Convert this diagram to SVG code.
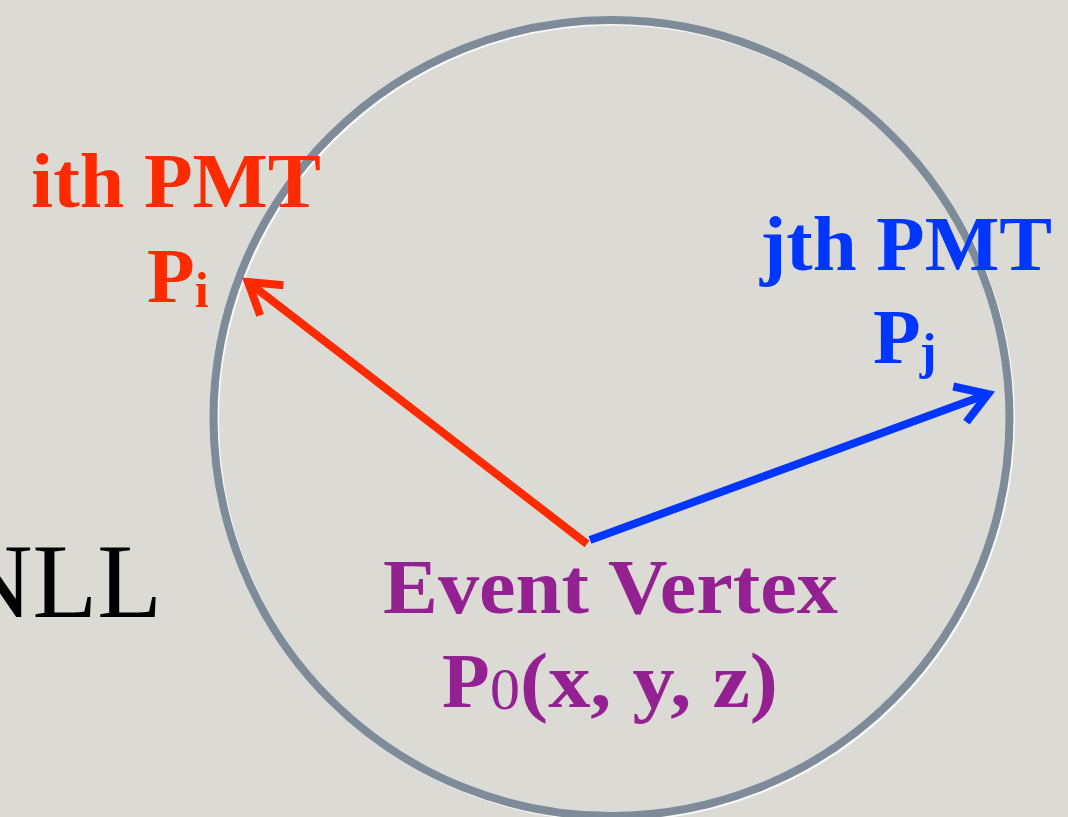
<svg xmlns="http://www.w3.org/2000/svg" width="1068" height="817" viewBox="0 0 1068 817">
<defs>
<style>
.t{font-family:"Liberation Serif","Times New Roman",serif;font-weight:bold;font-size:78px}
.red{fill:#ff2a00}
.blue{fill:#0036ff}
.pur{fill:#932191}
.ln{fill:none;stroke-width:8;stroke-linecap:butt}
</style>
<marker id="ahR" markerUnits="userSpaceOnUse" orient="auto" overflow="visible" refX="0" refY="0" markerWidth="10" markerHeight="10">
<path d="M-30,-19 L0,0 L-30,19" fill="none" stroke="#ff2a00" stroke-width="8" stroke-miterlimit="10"/>
</marker>
<marker id="ahB" markerUnits="userSpaceOnUse" orient="auto" overflow="visible" refX="0" refY="0" markerWidth="10" markerHeight="10">
<path d="M-30,-19 L0,0 L-30,19" fill="none" stroke="#0036ff" stroke-width="8" stroke-miterlimit="10"/>
</marker>
</defs>
<rect width="1068" height="817" fill="#dcdad5"/>
<g id="sphere">
<circle cx="613.5" cy="420" r="398" fill="none" stroke="#ffffff" stroke-opacity="0.85" stroke-width="7"/>
<circle cx="611.5" cy="418" r="398" fill="none" stroke="#7e8b98" stroke-width="8"/>
</g>
<g id="connectors">
<line class="ln" x1="587" y1="544" x2="248" y2="282" stroke="#ff2a00" marker-end="url(#ahR)"/>
<line class="ln" x1="590" y1="540" x2="988" y2="394" stroke="#0036ff" marker-end="url(#ahB)"/>
</g>
<g id="nll">
<text x="-44" y="617" font-family="Liberation Serif, Times New Roman, serif" font-size="106" fill="#000">NLL</text>
</g>
<g id="pmt-i">
<text class="t red" x="31" y="207" textLength="290" lengthAdjust="spacingAndGlyphs">ith PMT</text>
<text class="t red" x="147" y="302">P<tspan font-size="50" dx="0" dy="5">i</tspan></text>
</g>
<g id="pmt-j">
<text class="t blue" x="760" y="270" textLength="292" lengthAdjust="spacingAndGlyphs">jth PMT</text>
<text class="t blue" x="873" y="363">P<tspan font-size="50" dx="-1" dy="5">j</tspan></text>
</g>
<g id="vertex">
<text class="t pur" x="383" y="613" textLength="455" lengthAdjust="spacingAndGlyphs">Event Vertex</text>
<text class="t pur" x="442" y="707">P</text>
<text class="pur" x="490" y="709" font-family="Liberation Serif, Times New Roman, serif" font-size="60">0</text>
<text class="t pur" x="520" y="707" textLength="258" lengthAdjust="spacingAndGlyphs">(x, y, z)</text>
</g>
</svg>
